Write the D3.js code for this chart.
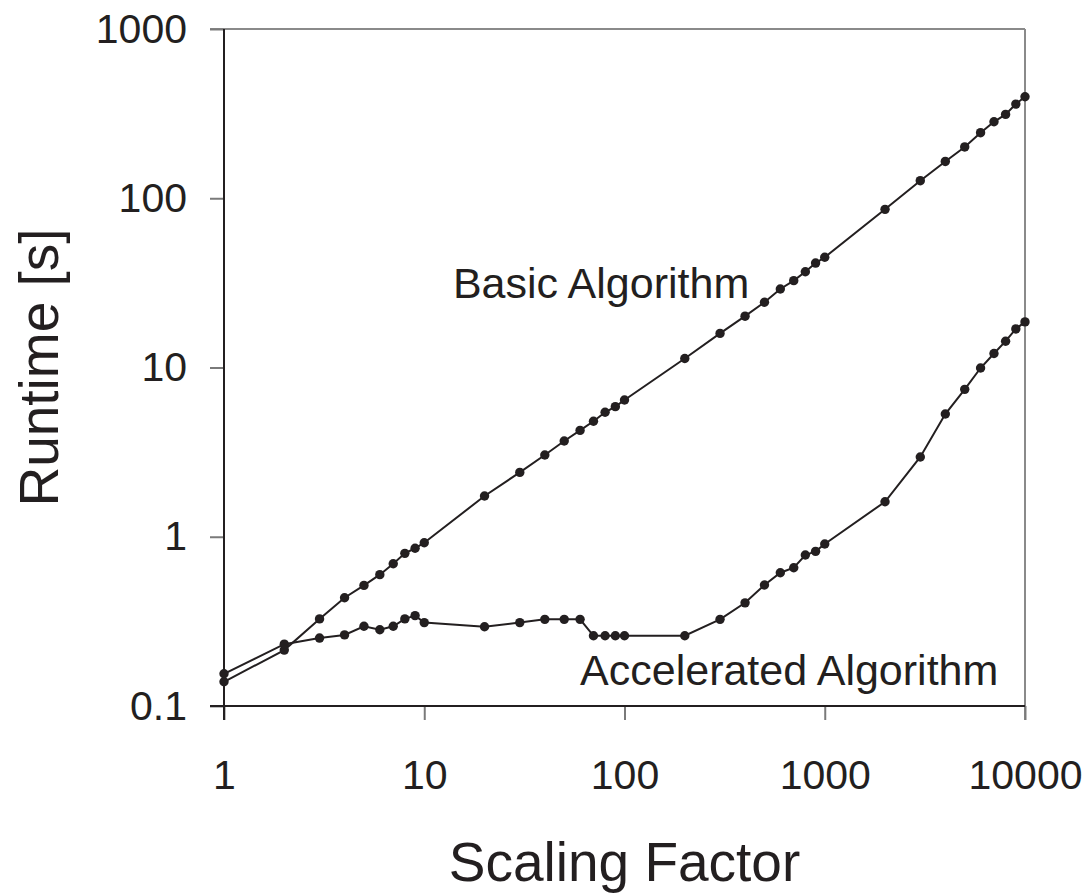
<!DOCTYPE html>
<html>
<head>
<meta charset="utf-8">
<script src="https://cdn.jsdelivr.net/npm/d3@7"></script>
<style>
  body { margin: 0; background: #fff; }
  text { font-family: "Liberation Sans", Arial, sans-serif; fill: #231f20; }
</style>
</head>
<body>
<div id="chart"></div>
<script>
// scaling factors (x) and runtimes in seconds for both algorithms
var scaling = [1, 2, 3, 4, 5, 6, 7, 8, 9, 10, 20, 30, 40, 50, 60, 70, 80, 90, 100,
  200, 300, 400, 500, 600, 700, 800, 900, 1000, 2000, 3000, 4000, 5000, 6000, 7000, 8000, 9000, 10000];
var basicRuntime = [0.139, 0.214, 0.327, 0.436, 0.516, 0.597, 0.693, 0.798, 0.855, 0.922,
  1.74, 2.40, 3.04, 3.68, 4.25, 4.81, 5.44, 5.87, 6.43,
  11.3, 15.9, 20.1, 24.3, 29.1, 32.6, 36.8, 41.4, 44.8,
  86.0, 127, 165, 201, 244, 283, 313, 360, 398];
var accelRuntime = [0.155, 0.232, 0.252, 0.263, 0.296, 0.282, 0.296, 0.327, 0.342, 0.311,
  0.294, 0.311, 0.325, 0.325, 0.325, 0.260, 0.260, 0.260, 0.260,
  0.260, 0.325, 0.407, 0.519, 0.613, 0.656, 0.780, 0.820, 0.906,
  1.61, 2.96, 5.31, 7.43, 9.93, 12.1, 14.3, 16.9, 18.6];
var xTicks = [1, 10, 100, 1000, 10000];
var yTicks = [0.1, 1, 10, 100, 1000];
var xTickLabels = ["1", "10", "100", "1000", "10000"];
var yTickLabels = ["0.1", "1", "10", "100", "1000"];
var seriesLabels = ["Basic Algorithm", "Accelerated Algorithm"];

var svgWidth = 1091, svgHeight = 896;
var margin = { top: 29, left: 224, right: 66, bottom: 190 };
var width = svgWidth - margin.left - margin.right;
var height = svgHeight - margin.top - margin.bottom;

var svg = d3.select("#chart").append("svg")
  .attr("width", svgWidth)
  .attr("height", svgHeight);

var g = svg.append("g")
  .attr("transform", `translate(${margin.left}, ${margin.top})`);

var xScale = d3.scaleLog().domain([1, 10000]).range([0, width]);
var yScale = d3.scaleLog().domain([0.1, 1000]).range([height, 0]);

var tickLen = 14;

// gray frame on top and right
g.append("line").attr("x1", -tickLen).attr("x2", width).attr("y1", 0).attr("y2", 0)
  .attr("stroke", "#8a8a8a").attr("stroke-width", 2);
g.append("line").attr("x1", width).attr("x2", width).attr("y1", 0).attr("y2", height + tickLen)
  .attr("stroke", "#8a8a8a").attr("stroke-width", 2);

// axes
var xAxis = d3.axisBottom(xScale)
  .tickValues(xTicks)
  .tickSize(tickLen)
  .tickSizeOuter(0)
  .tickPadding(40)
  .tickFormat((d, i) => xTickLabels[i]);
var yAxis = d3.axisLeft(yScale)
  .tickValues(yTicks)
  .tickSize(tickLen)
  .tickSizeOuter(0)
  .tickPadding(23)
  .tickFormat((d, i) => yTickLabels[i]);

var gx = g.append("g").attr("transform", `translate(0, ${height})`).call(xAxis);
var gy = g.append("g").call(yAxis);

[gx, gy].forEach(a => {
  a.select(".domain").remove();
  a.selectAll(".tick line").attr("stroke", "#7a7a7a").attr("stroke-width", 2);
  a.selectAll("text")
    .style("font-family", "'Liberation Sans', Arial, sans-serif")
    .style("font-size", "41px")
    .attr("fill", "#231f20");
});

// dark axis lines (left and bottom)
g.append("line").attr("x1", 0).attr("x2", 0).attr("y1", 0).attr("y2", height + tickLen)
  .attr("stroke", "#231f20").attr("stroke-width", 2);
g.append("line").attr("x1", -tickLen).attr("x2", width).attr("y1", height).attr("y2", height)
  .attr("stroke", "#231f20").attr("stroke-width", 2);

// lines and markers
var line = d3.line()
  .x(d => xScale(d[0]))
  .y(d => yScale(d[1]));

[basicRuntime, accelRuntime].forEach(series => {
  var pts = scaling.map((x, i) => [x, series[i]]);
  g.append("path")
    .datum(pts)
    .attr("fill", "none")
    .attr("stroke", "#231f20")
    .attr("stroke-width", 2)
    .attr("d", line);
  g.selectAll(null)
    .data(pts)
    .enter()
    .append("circle")
    .attr("cx", d => xScale(d[0]))
    .attr("cy", d => yScale(d[1]))
    .attr("r", 4.7)
    .attr("fill", "#231f20");
});

// series labels
g.append("text")
  .attr("x", xScale(13.9))
  .attr("y", yScale(25.7))
  .style("font-size", "43px")
  .text(seriesLabels[0]);
g.append("text")
  .attr("x", xScale(60))
  .attr("y", yScale(0.133))
  .style("font-size", "43px")
  .text(seriesLabels[1]);

// axis titles
svg.append("text")
  .attr("x", margin.left + width / 2)
  .attr("y", 881)
  .attr("text-anchor", "middle")
  .style("font-size", "55px")
  .text("Scaling Factor");
svg.append("text")
  .attr("transform", `translate(58, ${margin.top + height / 2}) rotate(-90)`)
  .attr("text-anchor", "middle")
  .style("font-size", "55px")
  .text("Runtime [s]");
</script>
</body>
</html>
